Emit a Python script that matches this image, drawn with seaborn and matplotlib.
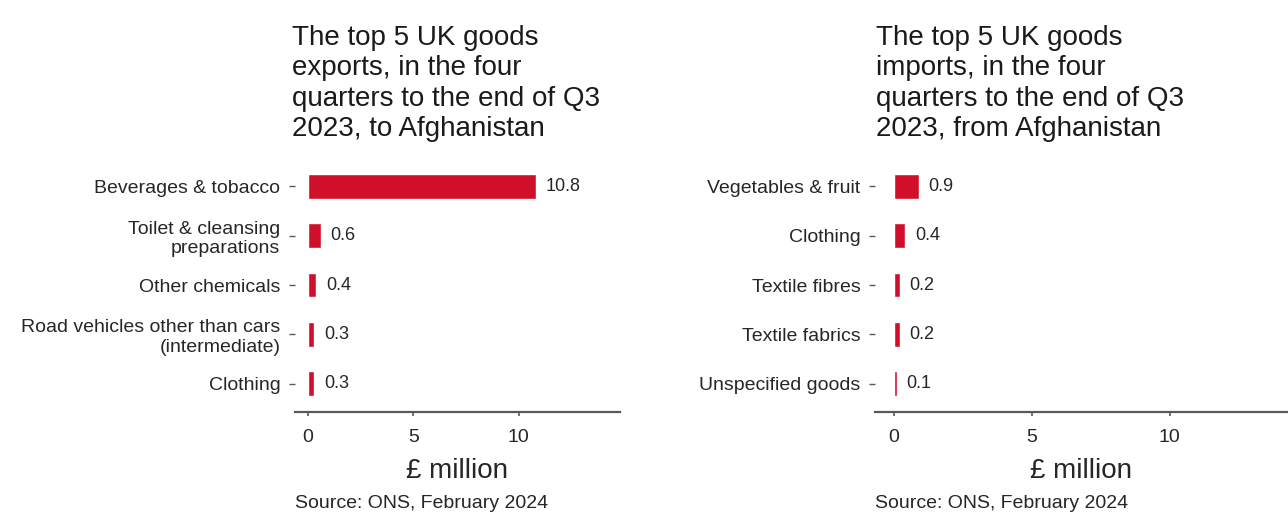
import matplotlib
matplotlib.use("Agg")
import matplotlib.pyplot as plt
import seaborn as sns
import pandas as pd

sns.set_theme(style="white")
plt.rcParams['font.family'] = ['Liberation Sans', 'DejaVu Sans']

# ---- data ----
export_categories = ["Beverages & tobacco", "Toilet & cleansing\npreparations",
                     "Other chemicals", "Road vehicles other than cars\n(intermediate)",
                     "Clothing"]
export_values = [10.8, 0.6, 0.4, 0.3, 0.3]

import_categories = ["Vegetables & fruit", "Clothing", "Textile fibres",
                     "Textile fabrics", "Unspecified goods"]
import_values = [0.9, 0.4, 0.2, 0.2, 0.1]

x_ticks = [0, 5, 10]
titles = ["The top 5 UK goods\nexports, in the four\nquarters to the end of Q3\n2023, to Afghanistan",
          "The top 5 UK goods\nimports, in the four\nquarters to the end of Q3\n2023, from Afghanistan"]
x_label = "£ million"
source = "Source: ONS, February 2024"

BAR = "#D0102B"
TXT = "#262626"
AX = "#595959"

W, H = 1288, 512
fig = plt.figure(figsize=(W / 100, H / 100), dpi=100)

def px(x0, y0, x1, y1):
    return [x0 / W, 1 - y1 / H, (x1 - x0) / W, (y1 - y0) / H]

panels = [
    dict(cats=export_categories, vals=export_values, rect=px(295, 158, 620, 412),
         xlim=(-0.62, 14.8), title=titles[0], tx=292),
    dict(cats=import_categories, vals=import_values, rect=px(875, 158, 1288, 412),
         xlim=(-0.69, 14.3), title=titles[1], tx=876),
]

for p in panels:
    ax = fig.add_axes(p["rect"])
    df = pd.DataFrame({"category": p["cats"], "value": p["vals"]})
    sns.barplot(data=df, x="value", y="category", orient="h", color=BAR,
                saturation=1, width=0.5, ax=ax)
    for c in ax.containers:
        ax.bar_label(c, labels=[f"{v:.1f}" for v in p["vals"]], padding=7,
                     fontsize=13, color=TXT)
    ax.set_xlim(*p["xlim"])
    ax.set_ylim(4.57, -0.57)
    ax.set_xticks(x_ticks)
    ax.set_xticklabels([str(t) for t in x_ticks])
    ax.set_ylabel("")
    ax.set_xlabel(x_label, fontsize=20, color=TXT, labelpad=9)
    for s in ["top", "right", "left"]:
        ax.spines[s].set_visible(False)
    ax.spines["bottom"].set_color(AX)
    ax.spines["bottom"].set_linewidth(1.6)
    ax.tick_params(axis="x", length=3, width=1.2, color=AX, pad=9,
                   labelsize=14, labelcolor=TXT, bottom=True)
    ax.tick_params(axis="y", length=4.5, width=1.0, color=AX, pad=6,
                   labelsize=14, labelcolor=TXT, left=True)
    ax.grid(False)
    fig.text(p["tx"] / W, 1 - 25 / H, p["title"], ha="left", va="top",
             fontsize=20, color="#1a1a1a", linespacing=1.22)
    fig.text(p["rect"][0], 1 - 508 / H, source, ha="left", va="baseline",
             fontsize=14, color=TXT)

fig.savefig("out.png", dpi=100, facecolor="white")
